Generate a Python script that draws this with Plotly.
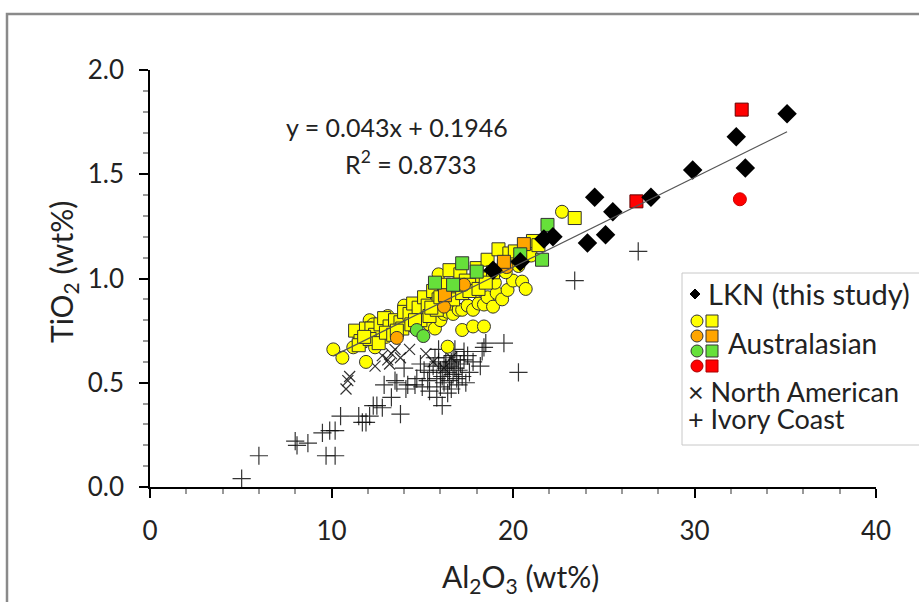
import plotly.graph_objects as go

# ---- data -----------------------------------------------------------------
lkn = [(18.9, 1.04), (20.4, 1.08), (21.7, 1.19), (22.2, 1.20), (24.1, 1.17),
       (24.5, 1.39), (25.1, 1.21), (25.5, 1.32), (27.6, 1.39), (29.9, 1.52),
       (32.3, 1.68), (32.8, 1.53), (35.1, 1.79)]

aus_yellow_circle = [
    (10.1, 0.66), (10.6, 0.62), (11.2, 0.67), (11.9, 0.60), (12.1, 0.80), (12.4, 0.67),
    (12.7, 0.71), (13.0, 0.72), (13.3, 0.745), (13.6, 0.74), (13.9, 0.76), (14.2, 0.785),
    (14.5, 0.77), (14.8, 0.79), (15.1, 0.80), (15.4, 0.78), (15.7, 0.76), (16.0, 0.80),
    (16.2, 0.83), (16.4, 0.84), (16.7, 0.83), (17.0, 0.85), (17.2, 0.85), (17.5, 0.87),
    (17.8, 0.85), (18.1, 0.88), (18.4, 0.875), (18.6, 0.91), (18.9, 0.865), (19.1, 0.93),
    (19.4, 0.90), (19.7, 0.945), (20.0, 0.99), (20.5, 0.985), (20.7, 0.95), (17.2, 0.753),
    (17.8, 0.77), (18.4, 0.77), (16.4, 0.673), (11.5, 0.73), (12.9, 0.76), (13.4, 0.79),
    (14.1, 0.81), (14.7, 0.84), (15.2, 0.86), (15.6, 0.88), (15.9, 0.90), (16.3, 0.92),
    (16.6, 0.94), (16.9, 0.93), (17.3, 0.97), (17.6, 0.96), (17.9, 0.99), (18.2, 1.01),
    (18.7, 1.00), (19.2, 1.04), (19.6, 1.03), (20.2, 1.07), (15.9, 1.02), (16.1, 0.95),
    (14.0, 0.87), (13.1, 0.82), (12.3, 0.78), (22.7, 1.32), (21.0, 1.11), (20.3, 1.06),
    (19.0, 0.98), (18.0, 0.94)]

aus_yellow_square = [
    (11.3, 0.75), (11.6, 0.70), (11.9, 0.76), (12.2, 0.76), (12.4, 0.73), (12.7, 0.78),
    (12.9, 0.81), (13.2, 0.77), (13.5, 0.80), (13.8, 0.79), (14.0, 0.84), (14.3, 0.83),
    (14.5, 0.88), (14.8, 0.86), (15.1, 0.91), (15.3, 0.87), (15.6, 0.94), (15.9, 0.90),
    (16.2, 0.97), (16.5, 1.04), (16.8, 0.96), (17.1, 1.02), (17.4, 0.99), (17.7, 0.97),
    (18.0, 1.05), (18.3, 1.00), (18.6, 1.09), (18.9, 1.03), (19.2, 1.14), (19.5, 1.06),
    (19.8, 1.12), (20.1, 1.13), (21.1, 1.18), (21.4, 1.16), (23.4, 1.29), (11.5, 0.68),
    (12.1, 0.71), (12.6, 0.69), (13.0, 0.74), (13.4, 0.73), (13.9, 0.76), (14.4, 0.78),
    (14.9, 0.80), (15.4, 0.82), (15.8, 0.85), (16.3, 0.88), (16.7, 0.90), (17.2, 0.93),
    (17.6, 0.94), (18.1, 0.95), (18.5, 0.98), (11.8, 0.72), (13.6, 0.75), (14.6, 0.80),
    (15.5, 0.86), (16.0, 0.91), (17.0, 0.97)]

aus_orange_circle = [(13.6, 0.715), (16.2, 0.865), (17.3, 0.97), (19.65, 1.055)]
aus_orange_square = [(16.25, 0.92), (19.5, 1.08), (20.6, 1.165)]
aus_green_circle = [(14.7, 0.753), (15.06, 0.724)]
aus_green_square = [(15.7, 0.98), (16.7, 0.97), (17.2, 1.073), (18.0, 1.033),
                    (20.4, 1.116), (21.6, 1.09), (21.9, 1.257)]
aus_red_circle = [(32.5, 1.38)]
aus_red_square = [(26.8, 1.37), (32.6, 1.81)]

north_american = [(10.9, 0.51), (10.8, 0.47), (11.0, 0.53), (12.4, 0.58), (12.8, 0.63),
                  (13.1, 0.61), (13.3, 0.64), (13.5, 0.66), (13.2, 0.59), (13.8, 0.62),
                  (14.3, 0.66), (15.6, 0.60), (16.2, 0.57), (16.6, 0.62), (15.2, 0.64)]

ivory_coast = [
    (5.05, 0.04), (6.0, 0.15), (8.0, 0.22), (8.1, 0.20), (8.7, 0.21), (9.5, 0.26),
    (9.9, 0.27), (10.2, 0.27), (9.7, 0.15), (10.2, 0.15), (10.5, 0.34), (11.5, 0.34),
    (11.7, 0.31), (11.9, 0.31), (12.1, 0.34), (12.3, 0.39), (12.5, 0.39), (12.8, 0.38),
    (12.9, 0.49), (13.3, 0.43), (13.8, 0.35), (13.6, 0.50), (14.1, 0.47), (14.6, 0.49),
    (14.0, 0.57), (14.9, 0.59), (14.2, 0.49), (13.5, 0.51), (15.4, 0.46), (15.8, 0.43),
    (16.1, 0.39), (17.0, 0.49), (17.4, 0.50), (17.5, 0.63), (17.3, 0.65), (18.4, 0.67),
    (18.5, 0.69), (18.3, 0.65), (19.5, 0.69), (20.3, 0.55), (17.6, 0.55), (23.4, 0.99),
    (26.9, 1.13),
    (15.4, 0.55), (15.6, 0.58), (15.8, 0.52), (15.9, 0.60), (16.0, 0.56), (16.1, 0.53),
    (16.2, 0.59), (16.3, 0.62), (16.4, 0.55), (16.5, 0.51), (16.5, 0.58), (16.6, 0.60),
    (16.7, 0.54), (16.8, 0.57), (16.9, 0.61), (16.9, 0.52), (17.0, 0.56), (17.1, 0.59),
    (16.2, 0.50), (15.7, 0.62), (16.0, 0.48), (16.6, 0.47), (17.2, 0.53), (15.3, 0.51),
    (16.3, 0.57), (16.7, 0.63), (14.7, 0.52), (15.1, 0.56), (15.0, 0.48), (16.4, 0.45),
    (17.3, 0.61), (15.9, 0.66), (16.8, 0.66), (17.8, 0.60), (18.2, 0.58)]

slope, intercept = 0.043, 0.1946
trend_x = [10.1, 35.1]

FONT = "Lato"
YELLOW, ORANGE, GREEN, RED = "#ffff00", "#ffa500", "#66e03a", "#ff0000"
TXT = "#222222"


def xs(p):
    return [a for a, b in p]


def ys(p):
    return [b for a, b in p]


fig = go.Figure()


def pts(p, symbol, color, size=12, lw=1, lc="#333333"):
    fig.add_trace(go.Scatter(x=xs(p), y=ys(p), mode="markers", showlegend=False,
                             marker=dict(symbol=symbol, size=size, color=color,
                                         line=dict(width=lw, color=lc))))


pts(ivory_coast, "cross-thin", "#111111", size=13, lw=1.2, lc="rgba(15,15,15,0.85)")
pts(north_american, "x-thin", "#111111", size=11, lw=1.2, lc="rgba(15,15,15,0.85)")
pts(aus_yellow_circle, "circle", YELLOW, 13)
pts(aus_yellow_square, "square", YELLOW, 13)
pts(aus_orange_circle, "circle", ORANGE, 13)
pts(aus_orange_square, "square", ORANGE, 13)
pts(aus_green_circle, "circle", GREEN, 13)
pts(aus_green_square, "square", GREEN, 13)
pts(aus_red_circle, "circle", RED, 13, lc="#cc0000")
pts(aus_red_square, "square", RED, 13, lc="#660000")
pts(lkn, "diamond", "black", 15, lw=0)

fig.add_trace(go.Scatter(x=trend_x, y=[slope * v + intercept for v in trend_x],
                         mode="lines", showlegend=False,
                         line=dict(color="#555555", width=1.2)))

# ---- legend built by hand (stacked Australasian glyph) ----------------------
L, B, W, H = 150, 487, 726, 417   # plot area in px


def px(x):
    return (x - L) / W


def py(y):
    return (B - y) / H


shapes = []
# outer frame
shapes.append(dict(type="rect", xref="paper", yref="paper", x0=px(7), x1=px(940),
                   y0=py(640), y1=py(14), line=dict(color="#8a8a8a", width=2.5)))
# legend box
shapes.append(dict(type="rect", xref="paper", yref="paper", x0=px(682), x1=px(940),
                   y0=py(445), y1=py(273), line=dict(color="#c8c8c8", width=1),
                   fillcolor="white", layer="above"))


def glyph(kind, cx, cy, color, r=6, lc="#333333"):
    d = dict(xref="paper", yref="paper", xsizemode="pixel", ysizemode="pixel",
             xanchor=px(cx), yanchor=py(cy), fillcolor=color,
             line=dict(color=lc, width=1), layer="above")
    if kind == "path":
        d.update(type="path", path=f"M 0 {r} L {r} 0 L 0 -{r} L -{r} 0 Z")
    else:
        d.update(type=kind, x0=-r, x1=r, y0=-r, y1=r)
    shapes.append(d)


glyph("path", 695, 294, "black", r=5, lc="black")
for row, (c, lc) in enumerate([(YELLOW, "#333"), (ORANGE, "#333"), (GREEN, "#333"),
                               (RED, "#aa0000")]):
    cy = 321 + row * 15
    glyph("circle", 697, cy, c, lc=lc)
    glyph("rect", 712, cy, c, lc=lc)

annotations = [
    dict(text="LKN (this study)", x=px(706), y=py(293), size=29),
    dict(text="Australasian", x=px(726), y=py(343), size=28),
    dict(text="× North American", x=px(686), y=py(391), size=27),
    dict(text="+ Ivory Coast", x=px(686), y=py(418), size=27),
]
for a in annotations:
    a.update(xref="paper", yref="paper", xanchor="left", yanchor="middle",
             showarrow=False, font=dict(family=FONT, size=a.pop("size"), color=TXT))

eq_font = dict(family=FONT, size=25, color=TXT)
annotations.append(dict(text=f"y = {slope}x + {intercept}", x=px(397), y=py(127)))
annotations.append(dict(text="R<sup>2</sup> = 0.8733", x=px(411), y=py(162)))
for a in annotations[-2:]:
    a.update(xref="paper", yref="paper", xanchor="center", yanchor="middle",
             showarrow=False, font=eq_font)

# axis titles as annotations for exact placement
title_font = dict(family=FONT, size=30, color=TXT)
annotations.append(dict(text="Al<sub>2</sub>O<sub>3</sub> (wt%)", x=px(520), y=py(578),
                        xref="paper", yref="paper", xanchor="center", yanchor="middle",
                        showarrow=False, font=title_font))
annotations.append(dict(text="TiO<sub>2</sub> (wt%)", x=px(63), y=py(272), textangle=-90,
                        xref="paper", yref="paper", xanchor="center", yanchor="middle",
                        showarrow=False, font=title_font))

axis_common = dict(showline=True, linecolor="black", linewidth=1.5, showgrid=False,
                   zeroline=False, ticks="outside", ticklen=9, tickwidth=1.5,
                   tickcolor="black", automargin=False,
                   tickfont=dict(family=FONT, size=26, color=TXT))

fig.update_layout(
    width=919, height=602,
    margin=dict(l=150, r=43, t=70, b=115),
    paper_bgcolor="white", plot_bgcolor="white",
    font=dict(family=FONT),
    xaxis=dict(range=[0, 40], dtick=10, ticklabelstandoff=11, **axis_common,
               minor=dict(dtick=2, ticks="outside", ticklen=5, tickcolor="#999999")),
    yaxis=dict(range=[0, 2], dtick=0.5, tickformat=".1f", ticklabelstandoff=10,
               **axis_common,
               minor=dict(dtick=0.1, ticks="outside", ticklen=5, tickcolor="#999999")),
    shapes=shapes, annotations=annotations,
)

fig.write_html("out.html", config={"displayModeBar": False},
               post_script="document.body.style.margin='0';"
                           "document.body.style.overflow='hidden';")
